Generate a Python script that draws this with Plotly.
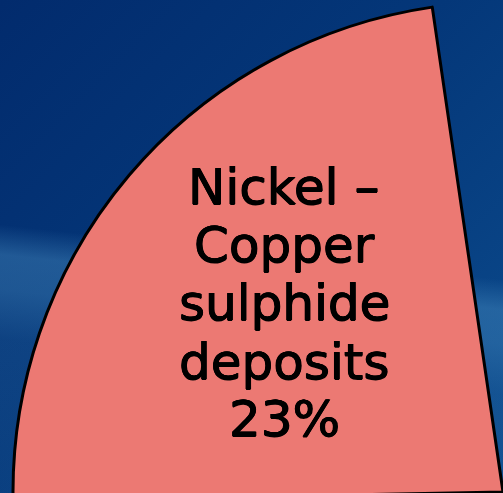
import base64
import plotly.graph_objects as go

# ---- data ----
labels = ["Nickel–Copper sulphide deposits", "Other deposits"]
values = [23, 77]
label_lines = ["Nickel –", "Copper", "sulphide", "deposits"]
slice_colors = ["#EC7973", "rgba(0,0,0,0)"]

# ---- geometry (visible window is the top-left quadrant of a large figure) ----
VIEW_W, VIEW_H = 503, 493
CX, CY, R = 503, 492, 490
W, H = 2 * CX, 2 * CY
TOP_EDGE_DEG = -8.3  # angle (clockwise from 12 o'clock) of the slice's upper edge

pct = round(values[0] / sum(values) * 100)
text_lines = label_lines + [f"{pct}%"]
slice_deg = values[0] / sum(values) * 360

# background gradient image (visible area only)
svg = f'''<svg xmlns="http://www.w3.org/2000/svg" width="{VIEW_W}" height="{VIEW_H}" viewBox="0 0 {VIEW_W} {VIEW_H}">
<defs>
<linearGradient id="base" gradientUnits="userSpaceOnUse" x1="0" y1="0" x2="503" y2="493">
<stop offset="0" stop-color="#022B6D"/>
<stop offset="0.45" stop-color="#043779"/>
<stop offset="1" stop-color="#0C4C8E"/>
</linearGradient>
<linearGradient id="band" gradientUnits="userSpaceOnUse" x1="0" y1="0" x2="-54" y2="493">
<stop offset="0" stop-color="#4A90C4" stop-opacity="0"/>
<stop offset="0.45" stop-color="#4A90C4" stop-opacity="0"/>
<stop offset="0.51" stop-color="#4A90C4" stop-opacity="0.42"/>
<stop offset="0.58" stop-color="#4A90C4" stop-opacity="0.38"/>
<stop offset="0.68" stop-color="#4A90C4" stop-opacity="0.15"/>
<stop offset="1" stop-color="#4A90C4" stop-opacity="0.08"/>
</linearGradient>
</defs>
<rect width="{VIEW_W}" height="{VIEW_H}" fill="url(#base)"/>
<rect width="{VIEW_W}" height="{VIEW_H}" fill="url(#band)"/>
</svg>'''
bg_uri = "data:image/svg+xml;base64," + base64.b64encode(svg.encode()).decode()

fig = go.Figure()
fig.add_trace(go.Pie(
    labels=labels,
    values=values,
    sort=False,
    direction="counterclockwise",
    rotation=TOP_EDGE_DEG - slice_deg,
    marker=dict(colors=slice_colors, line=dict(color="#000000", width=[3, 0])),
    textinfo="none",
    hoverinfo="skip",
    showlegend=False,
    domain=dict(x=[(CX - R) / W, (CX + R) / W], y=[0.5 - R / H, 0.5 + R / H]),
))

TX = 284
line_y = [187, 245, 303.5, 361.5, 419.5]
for t, py in zip(text_lines, line_y):
    fig.add_annotation(
        text=t, x=TX / W, y=1 - py / H, xref="paper", yref="paper",
        xanchor="center", yanchor="middle", showarrow=False,
        font=dict(
            family="DejaVu Sans", size=50, color="#000000",
            shadow="0.6px 0 0 #000, -0.6px 0 0 #000, 0 0.5px 0 #000, 0 -0.5px 0 #000",
        ),
    )

fig.add_layout_image(
    source=bg_uri, xref="paper", yref="paper", x=0, y=1,
    sizex=VIEW_W / W, sizey=VIEW_H / H, xanchor="left", yanchor="top",
    sizing="stretch", layer="below",
)

fig.update_layout(
    width=W, height=H,
    margin=dict(l=0, r=0, t=0, b=0),
    paper_bgcolor="#06397B",
    plot_bgcolor="rgba(0,0,0,0)",
)

fig.write_html(
    "out.html",
    post_script="document.documentElement.style.overflow='hidden';document.body.style.overflow='hidden';document.body.style.margin='0';",
)
